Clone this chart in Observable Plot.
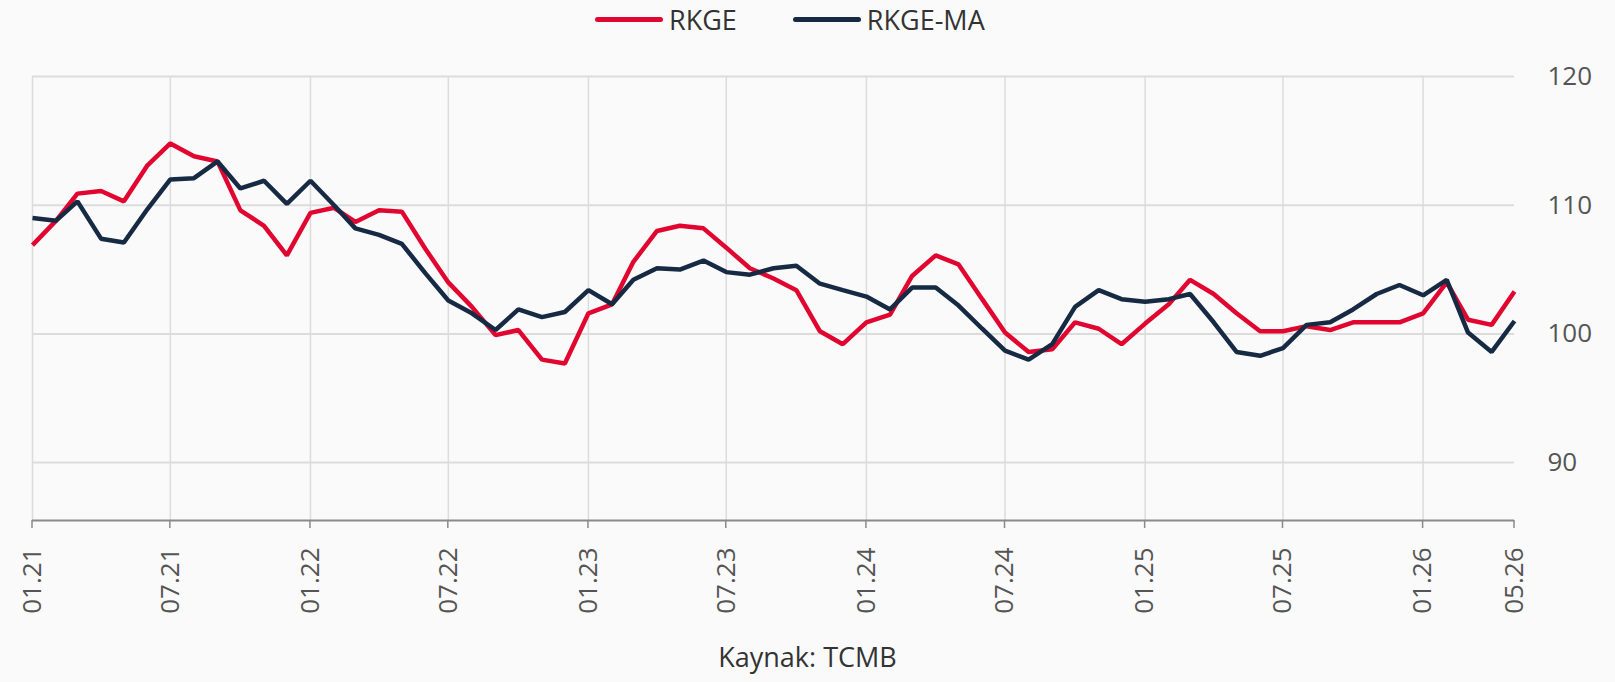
<!DOCTYPE html>
<html>
<head>
<meta charset="utf-8">
<script src="https://cdn.jsdelivr.net/npm/d3@7"></script>
<script src="https://cdn.jsdelivr.net/npm/@observablehq/plot@0.6"></script>
<style>
  html, body { margin: 0; padding: 0; background: #fafafa; width: 1615px; height: 682px; overflow: hidden; }
  body { position: relative; font-family: "Open Sans", sans-serif; }
  #chart { position: absolute; left: 0; top: 0; }
  #legend { position: absolute; top: 3px; left: 595px; height: 34px; line-height: 34px; font-size: 27px; color: #333; white-space: nowrap; }
  #legend .item { display: inline-block; vertical-align: top; }
  #legend .sw { display: inline-block; width: 68px; height: 5px; border-radius: 3px; vertical-align: middle; margin-right: 6px; position: relative; top: -3px; }
  #caption { position: absolute; top: 640px; left: 0; width: 1615px; text-align: center; font-size: 27px; line-height: 34px; color: #333; }
</style>
</head>
<body>
<div id="chart"></div>
<div id="legend"></div>
<div id="caption">Kaynak: TCMB</div>
<script>
// ---- data ----
const startMonth = "2021-01";
const seriesNames = ["RKGE", "RKGE-MA"];
const seriesColors = ["#e1062f", "#172a44"];
const rkge = [
  106.9, 108.8, 110.9, 111.1, 110.3, 113.1, 114.8, 113.8, 113.4, 109.6, 108.4, 106.1,
  109.4, 109.8, 108.7, 109.6, 109.5, 106.6, 104.0, 102.1, 99.9, 100.3, 98.0, 97.7,
  101.6, 102.3, 105.6, 108.0, 108.4, 108.2, 106.7, 105.1, 104.3, 103.4, 100.2, 99.2,
  100.9, 101.5, 104.5, 106.1, 105.4, 102.7, 100.1, 98.6, 98.8, 100.9, 100.4, 99.2,
  100.8, 102.3, 104.2, 103.1, 101.6, 100.2, 100.2, 100.6, 100.3, 100.9, 100.9, 100.9,
  101.6, 104.0, 101.1, 100.7, 103.3
];
const rkgeMA = [
  109.0, 108.8, 110.3, 107.4, 107.1, 109.7, 112.0, 112.1, 113.4, 111.3, 111.9, 110.1,
  111.9, 110.0, 108.2, 107.7, 107.0, 104.7, 102.6, 101.6, 100.3, 101.9, 101.3, 101.7,
  103.4, 102.3, 104.2, 105.1, 105.0, 105.7, 104.8, 104.6, 105.1, 105.3, 103.9, 103.4,
  102.9, 101.9, 103.6, 103.6, 102.2, 100.4, 98.7, 98.0, 99.2, 102.1, 103.4, 102.7,
  102.5, 102.7, 103.1, 100.9, 98.6, 98.3, 98.9, 100.7, 100.9, 101.9, 103.1, 103.8,
  103.0, 104.2, 100.1, 98.6, 101.0
];
const xTickLabels = ["01.21","07.21","01.22","07.22","01.23","07.23","01.24","07.24","01.25","07.25","01.26","05.26"];
const gridLabels = ["01.21","07.21","01.22","07.22","01.23","07.23","01.24","07.24","01.25","07.25","01.26"];
const yTicks = [90, 100, 110, 120];
const yDomain = [85.5, 120];

// ---- build ----
const parseLabel = d3.utcParse("%m.%y");
const start = d3.utcParse("%Y-%m")(startMonth);
const months = rkge.map((_, i) => d3.utcMonth.offset(start, i));
const table = [];
months.forEach((m, i) => {
  table.push({date: m, value: rkge[i], series: seriesNames[0]});
  table.push({date: m, value: rkgeMA[i], series: seriesNames[1]});
});
const tickDates = xTickLabels.map(parseLabel);
const gridDates = gridLabels.map(parseLabel);
const xDomain = [months[0], months[months.length - 1]];

const chart = Plot.plot({
  width: 1615,
  height: 682,
  marginTop: 76,
  marginBottom: 162,
  marginLeft: 32,
  marginRight: 101,
  style: {background: "transparent", fontFamily: "Open Sans"},
  x: {type: "utc", domain: xDomain, axis: null},
  y: {domain: yDomain, axis: null},
  color: {domain: seriesNames, range: seriesColors},
  marks: [
    Plot.gridX(gridDates, {stroke: "#dcdcdc", strokeOpacity: 1, strokeWidth: 1.5}),
    Plot.gridY(yTicks, {stroke: "#dcdcdc", strokeOpacity: 1, strokeWidth: 2}),
    Plot.ruleY([yDomain[0]], {stroke: "#8a8a8a", strokeWidth: 2}),
    Plot.text(tickDates, {x: d => d, y: () => yDomain[0], text: (d, i) => xTickLabels[i], rotate: -90, textAnchor: "end", dy: 27, fontSize: 26, fill: "#555", fontFamily: "Open Sans"}),
    Plot.text(yTicks, {x: () => xDomain[1], y: d => d, text: d => String(d), textAnchor: "start", dx: 33, fontSize: 26, fill: "#555", fontFamily: "Open Sans"}),
    Plot.lineY(table, {x: "date", y: "value", stroke: "series", z: "series", strokeWidth: 4.5, strokeLinejoin: "miter", strokeLinecap: "butt"})
  ]
});
document.getElementById("chart").appendChild(chart);

// short tick marks below the axis, positioned with the plot's own scales
const xs = chart.scale("x"), ys = chart.scale("y");
const svg = d3.select(chart);
svg.append("g").selectAll("line").data(tickDates).join("line")
  .attr("x1", d => xs.apply(d)).attr("x2", d => xs.apply(d))
  .attr("y1", ys.apply(yDomain[0])).attr("y2", ys.apply(yDomain[0]) + 8)
  .attr("stroke", "#8a8a8a").attr("stroke-width", 1.5);

// legend
const legend = d3.select("#legend");
seriesNames.forEach((name, i) => {
  const item = legend.append("span").attr("class", "item").style("margin-right", i === 0 ? "56px" : "0px");
  item.append("span").attr("class", "sw").style("background", seriesColors[i]);
  item.append("span").text(name);
});
</script>
</body>
</html>
